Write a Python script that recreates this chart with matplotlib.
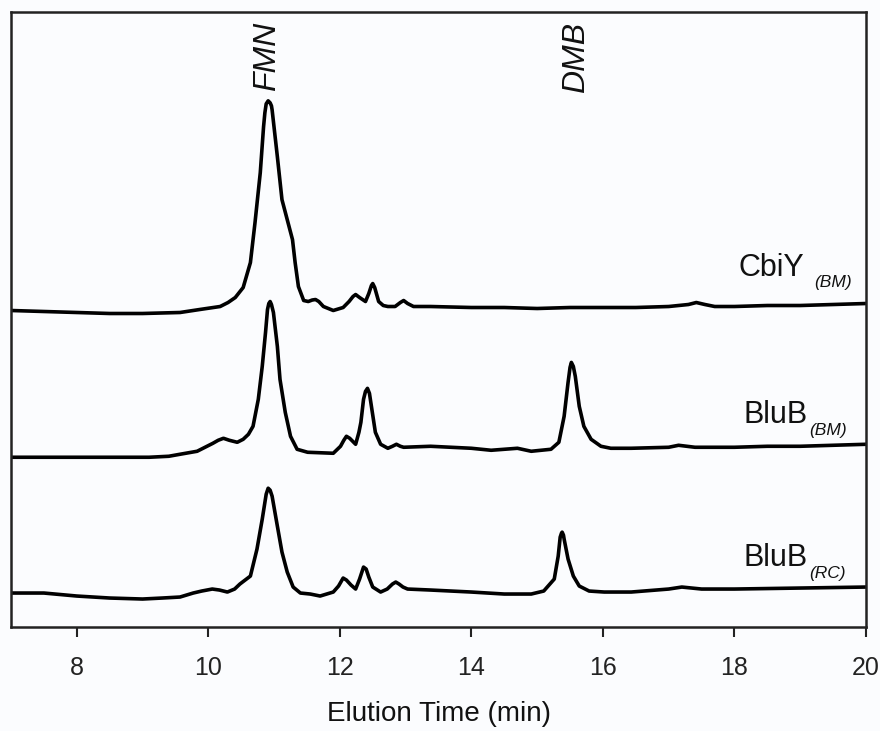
import matplotlib
matplotlib.use("Agg")
import matplotlib.pyplot as plt

plt.rcParams['font.family'] = ['Liberation Sans', 'DejaVu Sans']

# --- data (elution time in min, signal in arbitrary units incl. vertical offset) ---
cbiy_t = [7.0, 7.5, 8.0, 8.5, 9.0, 9.57, 9.87, 10.18, 10.30, 10.41, 10.53, 10.64, 10.71, 10.79,
          10.84, 10.86, 10.88, 10.91, 10.94, 10.96, 10.97, 11.05, 11.12, 11.20, 11.28, 11.32,
          11.37, 11.45, 11.52, 11.58, 11.63, 11.68, 11.75, 11.90, 12.05, 12.14, 12.20, 12.24,
          12.30, 12.39, 12.44, 12.48, 12.50, 12.53, 12.59, 12.66, 12.73, 12.84, 12.92, 12.97,
          13.03, 13.12, 13.38, 14.0, 14.5, 15.0, 15.5, 16.0, 16.5, 17.0, 17.3, 17.42, 17.55,
          17.7, 18.0, 18.5, 19.0, 19.5, 20.0]
cbiy_y = [317, 316, 315, 314, 314, 315, 318, 321, 325, 330, 340, 365, 405, 455,
          501, 515, 524, 527, 525, 522, 518, 471, 428, 408, 388, 365,
          341, 327, 326, 327.5, 328, 326, 321, 317, 320, 326, 331, 333,
          330, 326, 334, 342, 344, 340, 326, 322, 321, 321, 325, 327,
          324, 321, 321, 320, 320, 319, 320, 320, 320, 321, 323, 325, 323,
          321, 321, 322, 322, 323, 324]

blub_bm_t = [7.0, 8.0, 9.1, 9.4, 9.57, 9.83, 10.07, 10.15, 10.23, 10.32, 10.44, 10.53, 10.61,
             10.68, 10.76, 10.82, 10.87, 10.90, 10.92, 10.94, 10.96, 10.99, 11.05, 11.09, 11.17,
             11.25, 11.35, 11.51, 11.90, 12.01, 12.06, 12.10, 12.15, 12.24, 12.29, 12.32, 12.36,
             12.39, 12.42, 12.45, 12.48, 12.54, 12.62, 12.73, 12.80, 12.86, 12.92, 12.97, 13.38,
             14.0, 14.3, 14.7, 14.91, 15.21, 15.33, 15.41, 15.47, 15.50, 15.52, 15.55, 15.58,
             15.64, 15.71, 15.82, 15.97, 16.12, 16.43, 17.0, 17.15, 17.4, 18.0, 18.5, 19.0,
             19.5, 20.0]
blub_bm_y = [170, 170, 170, 171, 173, 176, 184, 187, 189, 187, 185, 188, 193,
             201, 228, 261, 295, 318, 324, 326, 323, 315, 281, 248, 215,
             191, 178, 175, 174, 181, 187, 191, 189, 183, 195, 205, 228,
             236, 239, 234, 221, 195, 183, 179, 181, 183, 181, 180, 181,
             179, 177, 179, 176, 178, 185, 211, 245, 260, 265, 261, 251,
             221, 201, 188, 181, 179, 179, 180, 182, 180, 180, 181, 181,
             182, 183]

blub_rc_t = [7.0, 7.5, 8.0, 8.5, 9.0, 9.3, 9.57, 9.77, 9.90, 10.06, 10.17, 10.29, 10.40, 10.48,
             10.64, 10.74, 10.82, 10.88, 10.91, 10.94, 10.97, 11.05, 11.12, 11.20, 11.29, 11.40,
             11.55, 11.70, 11.90, 11.98, 12.05, 12.10, 12.17, 12.24, 12.30, 12.36, 12.40, 12.44,
             12.50, 12.62, 12.72, 12.80, 12.85, 12.90, 12.96, 13.03, 13.38, 14.0, 14.5, 14.91,
             15.10, 15.26, 15.32, 15.35, 15.37, 15.38, 15.40, 15.41, 15.47, 15.55, 15.64, 15.79,
             16.02, 16.43, 17.0, 17.2, 17.5, 18.0, 19.0, 20.0]
blub_rc_y = [34, 34, 31, 29, 28, 29, 30, 34, 36, 38, 37, 35, 38, 43,
             51, 78, 108, 133, 139, 137, 131, 101, 75, 55, 40, 34,
             33, 31, 35, 41, 49, 47, 42, 38, 48, 60, 58, 50,
             40, 35, 38, 43, 45, 43, 40, 38, 37, 35, 33, 33,
             36, 48, 71, 90, 94, 95, 92, 88, 68, 51, 41, 36,
             35, 35, 38, 40, 38, 38, 39, 40]

series = [
    (cbiy_t, cbiy_y, "CbiY", "(BM)", 18.06, 352, 19.21, 341),
    (blub_bm_t, blub_bm_y, "BluB", "(BM)", 18.14, 204, 19.14, 192),
    (blub_rc_t, blub_rc_y, "BluB", "(RC)", 18.14, 61, 19.14, 49),
]
peak_labels = ["FMN", "DMB"]
peak_times = [10.90, 15.59]
xticks = [8, 10, 12, 14, 16, 18, 20]

fig = plt.figure(figsize=(8.8, 7.31), dpi=100)
fig.patch.set_facecolor('#fbfcfe')
ax = fig.add_axes([0.0125, 0.1423, 0.9716, 0.8413])
ax.set_facecolor('#fbfcfe')

for t, y, name, sub, nx, ny, sx, sy in series:
    ax.plot(t, y, color='black', lw=2.6, solid_joinstyle='round', solid_capstyle='round')
    ax.text(nx, ny, name, fontsize=22, va='baseline', ha='left', color='#111111')
    ax.text(sx, sy, sub, fontsize=12.5, style='italic', va='baseline', ha='left', color='#111111')

for lab, pt in zip(peak_labels, peak_times):
    ax.text(pt, 606, lab, rotation=90, style='italic', fontsize=23,
            ha='center', va='top', color='#111111')

ax.set_xlim(7, 20)
ax.set_ylim(0, 616)
ax.set_xticks(xticks)
ax.set_xticklabels([str(v) for v in xticks], fontsize=18)
ax.set_yticks([])
ax.tick_params(axis='x', direction='out', length=7, width=1.5, pad=14, colors='#222222')
for sp in ax.spines.values():
    sp.set_linewidth(1.8)
    sp.set_color('#222222')
ax.set_xlabel("Elution Time (min)", fontsize=20, labelpad=15, color='#111111')

fig.savefig("out.png", dpi=100, facecolor=fig.get_facecolor())
